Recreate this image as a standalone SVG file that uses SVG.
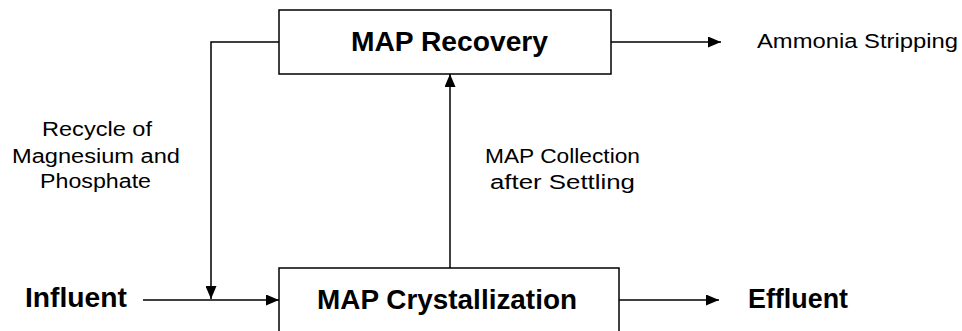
<svg xmlns="http://www.w3.org/2000/svg" width="962" height="331" viewBox="0 0 962 331">
<style>
.box{fill:#fff;stroke:#000;stroke-width:1.5}
.ln{fill:none;stroke:#000;stroke-width:1.5}
.b{font-family:"Liberation Sans",Arial,sans-serif;font-weight:bold;font-size:27px;fill:#000}
.t{font-family:"Liberation Sans",Arial,sans-serif;font-size:20px;fill:#000}
</style>
<defs>
<marker id="ah" viewBox="0 0 13 11" refX="13" refY="5.5" markerWidth="13" markerHeight="11" markerUnits="userSpaceOnUse" orient="auto">
<path d="M0,0 L13,5.5 L0,11 Z" fill="#000"/>
</marker>
</defs>
<g id="connectors">
<path class="ln" d="M279,42 H211 V299" marker-end="url(#ah)"/>
<path class="ln" d="M143,300 H279" marker-end="url(#ah)"/>
<path class="ln" d="M450,268 V74" marker-end="url(#ah)"/>
<path class="ln" d="M611,42 H721" marker-end="url(#ah)"/>
<path class="ln" d="M619,300 H719" marker-end="url(#ah)"/>
</g>
<g id="map-recovery">
<rect class="box" x="279" y="10" width="332" height="64"/>
<text class="b" x="351" y="51" textLength="197" lengthAdjust="spacingAndGlyphs">MAP Recovery</text>
</g>
<g id="map-crystallization">
<rect class="box" x="279" y="268" width="340" height="80"/>
<text class="b" x="317" y="309" textLength="260" lengthAdjust="spacingAndGlyphs">MAP Crystallization</text>
</g>
<g id="influent">
<text class="b" x="25" y="307" textLength="102" lengthAdjust="spacingAndGlyphs">Influent</text>
</g>
<g id="effluent">
<text class="b" x="748" y="308" textLength="100" lengthAdjust="spacingAndGlyphs">Effluent</text>
</g>
<g id="ammonia-stripping">
<text class="t" x="757" y="48" textLength="201" lengthAdjust="spacingAndGlyphs">Ammonia Stripping</text>
</g>
<g id="labels">
<text class="t" x="42" y="136" textLength="110" lengthAdjust="spacingAndGlyphs">Recycle of</text>
<text class="t" x="12" y="163" textLength="168" lengthAdjust="spacingAndGlyphs">Magnesium and</text>
<text class="t" x="40" y="188" textLength="111" lengthAdjust="spacingAndGlyphs">Phosphate</text>
<text class="t" x="485" y="163" textLength="155" lengthAdjust="spacingAndGlyphs">MAP Collection</text>
<text class="t" x="490" y="189" textLength="145" lengthAdjust="spacingAndGlyphs">after Settling</text>
</g>
</svg>
